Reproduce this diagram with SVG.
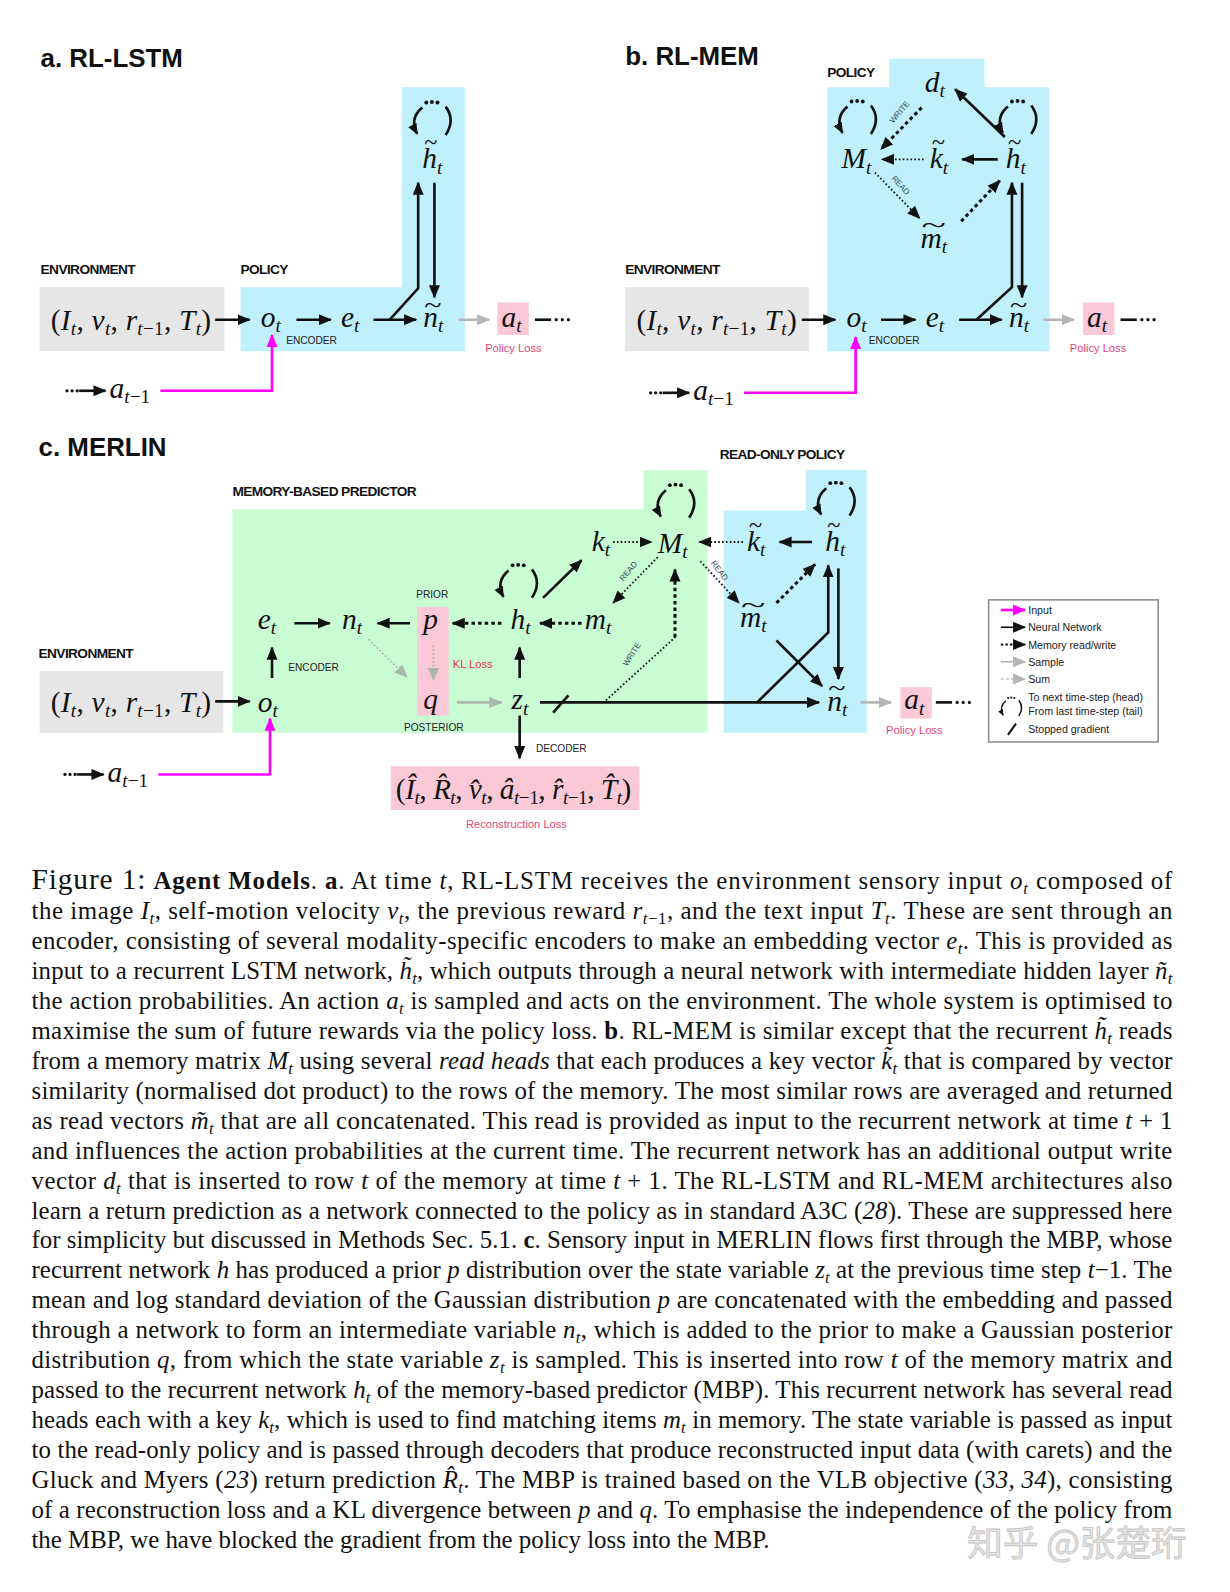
<svg xmlns="http://www.w3.org/2000/svg" xmlns:xlink="http://www.w3.org/1999/xlink" width="1230" height="1592" viewBox="0 0 1230 1592">
<style>
.title{font-family:"Liberation Sans",Arial,sans-serif;font-weight:bold;font-size:25.5px;fill:#111}
.lab{font-family:"Liberation Sans",Arial,sans-serif;font-weight:bold;font-size:13.5px;letter-spacing:-0.6px;fill:#111}
.sm{font-family:"Liberation Sans",Arial,sans-serif;font-size:10px;fill:#222}
.lg{font-family:"Liberation Sans",Arial,sans-serif;font-size:10.5px;fill:#222}
.tiny{font-family:"Liberation Sans",Arial,sans-serif;font-size:8px;fill:#34495a}
.loss{font-family:"Liberation Sans",Arial,sans-serif;font-size:11px;fill:#e6457c}
.kl{font-family:"Liberation Sans",Arial,sans-serif;font-size:11px;fill:#e8383e}
.mt{font-family:"Liberation Serif","Times New Roman",serif;font-size:29px;fill:#111}
.it{font-style:italic}
.sub{font-size:19px;font-style:italic}
.subr{font-size:19px;font-style:normal}
.til{font-family:"Liberation Serif","Times New Roman",serif;font-size:24px;fill:#111}
.ln{stroke:#111;stroke-width:2.6;fill:none}
.dot{stroke:#111;stroke-width:1.8;fill:none;stroke-dasharray:1.6 2.2}
.dsh{stroke:#111;stroke-width:3;fill:none;stroke-dasharray:3.5 3}
.gr{stroke:#b5b5b5;stroke-width:2.6;fill:none}
.gdot{stroke:#a9b8ab;stroke-width:1.8;fill:none;stroke-dasharray:1.6 2.2}
.mag{stroke:#ff00ff;stroke-width:2.6;fill:none}
.cap{font-family:"Liberation Serif","Times New Roman",serif;font-size:24.5px;fill:#111}
.cb{font-weight:bold}
.cs{font-size:16.5px;font-style:italic}
.csr{font-size:16.5px}
.blue{fill:#bff0fb}
.green{fill:#c9fcd3}
.grey{fill:#e6e6e6}
.pink{fill:#fac8d7}
</style>
<defs>
<marker id="ah" viewBox="0 0 12 10" refX="11" refY="5" markerWidth="13" markerHeight="11" markerUnits="userSpaceOnUse" orient="auto"><path d="M0,0 L12,5 L0,10 Z" fill="#111"/></marker>
<marker id="ahs" viewBox="0 0 12 10" refX="11" refY="5" markerWidth="11" markerHeight="10" markerUnits="userSpaceOnUse" orient="auto"><path d="M0,0 L12,5 L0,10 Z" fill="#111"/></marker>
<marker id="ahg" viewBox="0 0 12 10" refX="11" refY="5" markerWidth="13" markerHeight="11" markerUnits="userSpaceOnUse" orient="auto"><path d="M0,0 L12,5 L0,10 Z" fill="#b5b5b5"/></marker>
<marker id="ahgg" viewBox="0 0 12 10" refX="11" refY="5" markerWidth="13" markerHeight="11" markerUnits="userSpaceOnUse" orient="auto"><path d="M0,0 L12,5 L0,10 Z" fill="#a9b8ab"/></marker>
<marker id="ahm" viewBox="0 0 12 10" refX="11" refY="5" markerWidth="13" markerHeight="11" markerUnits="userSpaceOnUse" orient="auto"><path d="M0,0 L12,5 L0,10 Z" fill="#ff00ff"/></marker>
<g id="loop" fill="#111">
<circle cx="-5" cy="-17" r="1.9"/><circle cx="0.5" cy="-17.5" r="1.9"/><circle cx="6" cy="-17" r="1.9"/>
<path class="ln" d="M-9,-12 Q-22,-1 -14,14" marker-end="url(#ahs)"/>
<path class="ln" d="M14,-13 Q24,0 14,15"/>
</g>
<text id="tuple" class="mt" textLength="158" lengthAdjust="spacing">(<tspan class="it">I</tspan><tspan class="sub" dy="5">t</tspan><tspan dy="-5">, </tspan><tspan class="it">v</tspan><tspan class="sub" dy="5">t</tspan><tspan dy="-5">, </tspan><tspan class="it">r</tspan><tspan class="sub" dy="5">t</tspan><tspan class="subr">−1</tspan><tspan dy="-5">, </tspan><tspan class="it">T</tspan><tspan class="sub" dy="5">t</tspan><tspan dy="-5">)</tspan></text>
<g id="prev">
<circle cx="1" cy="0" r="1.6" fill="#111"/><circle cx="6" cy="0" r="1.6" fill="#111"/><circle cx="11" cy="0" r="1.6" fill="#111"/>
<line class="ln" x1="13" y1="0" x2="39" y2="0" marker-end="url(#ah)"/>
<text class="mt it" x="43" y="7">a<tspan class="sub" dy="5">t</tspan><tspan class="subr">−1</tspan></text>
<path class="mag" d="M93,0 H203 V-55" marker-end="url(#ahm)"/>
</g>
<g id="tail"><line class="ln" x1="0" y1="0" x2="16" y2="0"/><circle cx="21" cy="0" r="1.6" fill="#111"/><circle cx="27" cy="0" r="1.6" fill="#111"/><circle cx="33" cy="0" r="1.6" fill="#111"/></g>
</defs>
<rect width="1230" height="1592" fill="#fff"/>
<g transform="scale(1.015)">

<g id="regions">
<polygon class="blue" points="237,283 396,283 396,86 458,86 458,346 237,346"/>
<rect class="grey" x="39" y="283" width="182" height="63"/>
<polygon class="blue" points="815,86 876,86 876,58 970,58 970,86 1034,86 1034,346 815,346"/>
<rect class="grey" x="616" y="283" width="181" height="63"/>
<rect class="grey" x="39" y="661" width="181" height="61"/>
<polygon class="green" points="229,502 634,502 634,463 697,463 697,722 229,722"/>
<polygon class="blue" points="713,503 794,503 794,463 854,463 854,722 713,722"/>
<rect class="pink" x="411" y="598" width="31" height="107"/>
<rect class="pink" x="385" y="755" width="245" height="43"/>
<rect class="pink" x="490" y="298" width="31" height="32"/>
<rect class="pink" x="1067" y="298" width="31" height="32"/>
<rect class="pink" x="887" y="677" width="31" height="31"/>
</g>

<g id="labels">
<text class="title" x="40" y="66">a. RL-LSTM</text>
<text class="title" x="616" y="64">b. RL-MEM</text>
<text class="title" x="38" y="449">c. MERLIN</text>
<text class="lab" x="40" y="270">ENVIRONMENT</text>
<text class="lab" x="237" y="270">POLICY</text>
<text class="lab" x="616" y="270">ENVIRONMENT</text>
<text class="lab" x="815" y="76">POLICY</text>
<text class="lab" x="38" y="648">ENVIRONMENT</text>
<text class="lab" x="229" y="489">MEMORY-BASED PREDICTOR</text>
<text class="lab" x="709" y="452">READ-ONLY POLICY</text>
<text class="sm" x="282" y="339">ENCODER</text>
<text class="sm" x="856" y="339">ENCODER</text>
<text class="sm" x="284" y="661">ENCODER</text>
<text class="sm" x="528" y="741">DECODER</text>
<text class="sm" x="410" y="589">PRIOR</text>
<text class="sm" x="398" y="720">POSTERIOR</text>
<text class="kl" x="446" y="658">KL Loss</text>
<text class="loss" x="478" y="347">Policy Loss</text>
<text class="loss" x="1054" y="347">Policy Loss</text>
<text class="loss" x="873" y="723">Policy Loss</text>
<text class="loss" x="459" y="816">Reconstruction Loss</text>
<text class="tiny" transform="translate(880,122) rotate(-50)">WRITE</text>
<text class="tiny" transform="translate(878,176) rotate(48)">READ</text>
<text class="tiny" transform="translate(614,573) rotate(-50)">READ</text>
<text class="tiny" transform="translate(700,555) rotate(52)">READ</text>
<text class="tiny" transform="translate(618,657) rotate(-58)">WRITE</text>
</g>

<g id="connectors">
<line class="ln" x1="212" y1="315" x2="246" y2="315" marker-end="url(#ah)"/>
<line class="ln" x1="292" y1="315" x2="326" y2="315" marker-end="url(#ah)"/>
<line class="ln" x1="368" y1="315" x2="410" y2="315" marker-end="url(#ah)"/>
<path class="ln" d="M384,315 L412,284 V180" marker-end="url(#ah)"/>
<line class="ln" x1="428" y1="180" x2="428" y2="293" marker-end="url(#ah)"/>
<line class="gr" x1="452" y1="315" x2="482" y2="315" marker-end="url(#ahg)"/>
<use href="#tail" x="527" y="315"/>
<use href="#prev" x="65" y="385"/>
<line class="ln" x1="790" y1="315" x2="823" y2="315" marker-end="url(#ah)"/>
<line class="ln" x1="868" y1="315" x2="902" y2="315" marker-end="url(#ah)"/>
<line class="ln" x1="945" y1="315" x2="987" y2="315" marker-end="url(#ah)"/>
<path class="ln" d="M962,315 L997,283 V180" marker-end="url(#ah)"/>
<line class="ln" x1="1007" y1="180" x2="1007" y2="293" marker-end="url(#ah)"/>
<line class="gr" x1="1028" y1="315" x2="1058" y2="315" marker-end="url(#ahg)"/>
<use href="#tail" x="1104" y="315"/>
<use href="#prev" x="640" y="387"/>
<line class="ln" x1="990" y1="135" x2="941" y2="88" marker-end="url(#ah)"/>
<line class="dsh" x1="908" y1="106" x2="868" y2="147" marker-end="url(#ah)"/>
<line class="ln" x1="983" y1="157" x2="948" y2="157" marker-end="url(#ah)"/>
<line class="dot" x1="910" y1="157" x2="869" y2="157" marker-end="url(#ah)"/>
<line class="dot" x1="862" y1="170" x2="906" y2="215" marker-end="url(#ah)"/>
<line class="dsh" x1="947" y1="218" x2="985" y2="178" marker-end="url(#ah)"/>
<line class="ln" x1="212" y1="691" x2="246" y2="691" marker-end="url(#ah)"/>
<line class="ln" x1="268" y1="668" x2="268" y2="638" marker-end="url(#ah)"/>
<line class="ln" x1="290" y1="614" x2="325" y2="614" marker-end="url(#ah)"/>
<line class="ln" x1="404" y1="614" x2="372" y2="614" marker-end="url(#ah)"/>
<line class="dsh" x1="494" y1="614" x2="446" y2="614" marker-end="url(#ah)"/>
<line class="dsh" x1="573" y1="614" x2="532" y2="614" marker-end="url(#ah)"/>
<line class="ln" x1="535" y1="589" x2="573" y2="552" marker-end="url(#ah)"/>
<line class="dot" x1="604" y1="534" x2="642" y2="534" marker-end="url(#ah)"/>
<line class="dot" x1="648" y1="549" x2="604" y2="594" marker-end="url(#ah)"/>
<path class="dot" d="M597,690 L665,628"/>
<line class="dsh" x1="665" y1="628" x2="665" y2="561" marker-end="url(#ah)"/>
<line class="gdot" x1="363" y1="630" x2="401" y2="667" marker-end="url(#ahgg)"/>
<line class="gdot" x1="427" y1="636" x2="427" y2="670" marker-end="url(#ahgg)"/>
<line class="gr" x1="450" y1="692" x2="494" y2="692" marker-end="url(#ahgg)" style="stroke:#a9b8ab"/>
<line class="ln" x1="512" y1="668" x2="512" y2="638" marker-end="url(#ah)"/>
<line class="ln" x1="512" y1="705" x2="512" y2="747" marker-end="url(#ah)"/>
<line class="ln" x1="532" y1="692" x2="807" y2="692" marker-end="url(#ah)"/>
<line class="ln" x1="545" y1="702" x2="560" y2="685"/>
<line class="ln" x1="800" y1="534" x2="768" y2="534" marker-end="url(#ah)"/>
<line class="dot" x1="732" y1="534" x2="689" y2="534" marker-end="url(#ah)"/>
<line class="dot" x1="690" y1="553" x2="728" y2="594" marker-end="url(#ah)"/>
<line class="dsh" x1="765" y1="594" x2="803" y2="556" marker-end="url(#ah)"/>
<path class="ln" d="M746,692 L816,623 V557" marker-end="url(#ah)"/>
<line class="ln" x1="826" y1="560" x2="826" y2="669" marker-end="url(#ah)"/>
<line class="ln" x1="765" y1="631" x2="810" y2="676" marker-end="url(#ah)"/>
<line class="gr" x1="848" y1="692" x2="878" y2="692" marker-end="url(#ahg)"/>
<use href="#tail" x="922" y="692"/>
<use href="#prev" x="63" y="763"/>
</g>

<g id="node-env-a"><use href="#tuple" x="50" y="325"/></g>
<g id="node-ot-a"><text class="mt it" x="257" y="322">o<tspan class="sub" dy="5">t</tspan></text></g>
<g id="node-et-a"><text class="mt it" x="336" y="322">e<tspan class="sub" dy="5">t</tspan></text></g>
<g id="node-nt-a"><text class="mt it" x="417" y="322">n<tspan class="sub" dy="5">t</tspan></text><text class="til" x="418" y="308" textLength="17" lengthAdjust="spacingAndGlyphs">~</text></g>
<g id="node-ht-a"><text class="mt it" x="416" y="166">h<tspan class="sub" dy="5">t</tspan></text><text class="til" x="418" y="148" textLength="13" lengthAdjust="spacingAndGlyphs">~</text><use href="#loop" x="425" y="118"/></g>
<g id="node-at-a"><text class="mt it" x="494" y="322">a<tspan class="sub" dy="5">t</tspan></text></g>

<g id="node-env-b"><use href="#tuple" x="627" y="325"/></g>
<g id="node-ot-b"><text class="mt it" x="834" y="322">o<tspan class="sub" dy="5">t</tspan></text></g>
<g id="node-et-b"><text class="mt it" x="912" y="322">e<tspan class="sub" dy="5">t</tspan></text></g>
<g id="node-nt-b"><text class="mt it" x="994" y="322">n<tspan class="sub" dy="5">t</tspan></text><text class="til" x="995" y="308" textLength="17" lengthAdjust="spacingAndGlyphs">~</text></g>
<g id="node-at-b"><text class="mt it" x="1071" y="322">a<tspan class="sub" dy="5">t</tspan></text></g>
<g id="node-dt-b"><text class="mt it" x="911" y="91">d<tspan class="sub" dy="5">t</tspan></text></g>
<g id="node-Mt-b"><text class="mt it" x="829" y="166">M<tspan class="sub" dy="5">t</tspan></text><use href="#loop" x="844" y="117"/></g>
<g id="node-kt-b"><text class="mt it" x="916" y="166">k<tspan class="sub" dy="5">t</tspan></text><text class="til" x="918" y="148" textLength="13" lengthAdjust="spacingAndGlyphs">~</text></g>
<g id="node-ht-b"><text class="mt it" x="991" y="166">h<tspan class="sub" dy="5">t</tspan></text><text class="til" x="993" y="148" textLength="13" lengthAdjust="spacingAndGlyphs">~</text><use href="#loop" x="1002" y="117"/></g>
<g id="node-mt-b"><text class="mt it" x="907" y="244">m<tspan class="sub" dy="5">t</tspan></text><text class="til" x="908" y="230" textLength="24" lengthAdjust="spacingAndGlyphs">~</text></g>

<g id="node-env-c"><use href="#tuple" x="50" y="701"/></g>
<g id="node-ot-c"><text class="mt it" x="254" y="701">o<tspan class="sub" dy="5">t</tspan></text></g>
<g id="node-et-c"><text class="mt it" x="254" y="620">e<tspan class="sub" dy="5">t</tspan></text></g>
<g id="node-nt-c"><text class="mt it" x="337" y="620">n<tspan class="sub" dy="5">t</tspan></text></g>
<g id="node-p-c"><text class="mt it" x="417" y="620">p</text></g>
<g id="node-q-c"><text class="mt it" x="417" y="699">q</text></g>
<g id="node-ht-c"><text class="mt it" x="503" y="620">h<tspan class="sub" dy="5">t</tspan></text><use href="#loop" x="510" y="574"/></g>
<g id="node-mt-c"><text class="mt it" x="576" y="620">m<tspan class="sub" dy="5">t</tspan></text></g>
<g id="node-kt-c"><text class="mt it" x="583" y="543">k<tspan class="sub" dy="5">t</tspan></text></g>
<g id="node-Mt-c"><text class="mt it" x="648" y="545">M<tspan class="sub" dy="5">t</tspan></text><use href="#loop" x="665" y="495"/></g>
<g id="node-zt-c"><text class="mt it" x="504" y="699">z<tspan class="sub" dy="5">t</tspan></text></g>
<g id="node-recon-c"><text class="mt" x="390" y="787" textLength="232" lengthAdjust="spacing">(<tspan class="it">Î</tspan><tspan class="sub" dy="5">t</tspan><tspan dy="-5">, </tspan><tspan class="it">R̂</tspan><tspan class="sub" dy="5">t</tspan><tspan dy="-5">, </tspan><tspan class="it">v̂</tspan><tspan class="sub" dy="5">t</tspan><tspan dy="-5">, </tspan><tspan class="it">â</tspan><tspan class="sub" dy="5">t</tspan><tspan class="subr">−1</tspan><tspan dy="-5">, </tspan><tspan class="it">r̂</tspan><tspan class="sub" dy="5">t</tspan><tspan class="subr">−1</tspan><tspan dy="-5">, </tspan><tspan class="it">T̂</tspan><tspan class="sub" dy="5">t</tspan><tspan dy="-5">)</tspan></text></g>
<g id="node-kt2-c"><text class="mt it" x="736" y="543">k<tspan class="sub" dy="5">t</tspan></text><text class="til" x="738" y="525" textLength="13" lengthAdjust="spacingAndGlyphs">~</text></g>
<g id="node-ht2-c"><text class="mt it" x="813" y="543">h<tspan class="sub" dy="5">t</tspan></text><text class="til" x="815" y="525" textLength="13" lengthAdjust="spacingAndGlyphs">~</text><use href="#loop" x="823" y="493"/></g>
<g id="node-mt2-c"><text class="mt it" x="729" y="618">m<tspan class="sub" dy="5">t</tspan></text><text class="til" x="730" y="604" textLength="24" lengthAdjust="spacingAndGlyphs">~</text></g>
<g id="node-nt2-c"><text class="mt it" x="815" y="700">n<tspan class="sub" dy="5">t</tspan></text><text class="til" x="816" y="686" textLength="17" lengthAdjust="spacingAndGlyphs">~</text></g>
<g id="node-at-c"><text class="mt it" x="891" y="699">a<tspan class="sub" dy="5">t</tspan></text></g>

<g id="legend">
<rect x="974" y="591" width="167" height="140" fill="#fff" stroke="#8a8a8a" stroke-width="1.5"/>
<line class="mag" x1="986" y1="601" x2="1010" y2="601" marker-end="url(#ahm)"/>
<text class="lg" x="1013" y="605">Input</text>
<line class="ln" x1="986" y1="618" x2="1010" y2="618" marker-end="url(#ah)" style="stroke-width:1.6"/>
<text class="lg" x="1013" y="622">Neural Network</text>
<line class="dsh" x1="986" y1="635" x2="1010" y2="635" marker-end="url(#ah)" style="stroke-width:2;stroke-dasharray:2.5 2"/>
<text class="lg" x="1013" y="639">Memory read/write</text>
<line class="gr" x1="986" y1="652" x2="1010" y2="652" marker-end="url(#ahg)" style="stroke-width:1.6"/>
<text class="lg" x="1013" y="656">Sample</text>
<line class="gr" x1="986" y1="669" x2="1010" y2="669" marker-end="url(#ahg)" style="stroke-width:1.4;stroke:#c8c8c8;stroke-dasharray:3 2"/>
<text class="lg" x="1013" y="673">Sum</text>
<use href="#loop" transform="translate(996,697) scale(0.55)"/>
<text class="lg" x="1013" y="691">To next time-step (head)</text>
<text class="lg" x="1013" y="704">From last time-step (tail)</text>
<line class="ln" x1="993" y1="724" x2="1001" y2="713" style="stroke-width:2"/>
<text class="lg" x="1013" y="722">Stopped gradient</text>
</g>

<g id="caption">
<text class="cap" x="31" y="876" textLength="1124" lengthAdjust="spacing"><tspan font-size="29">Figure 1:</tspan> <tspan class="cb">Agent Models</tspan>. <tspan class="cb">a</tspan>. At time <tspan class="it">t</tspan>, RL-LSTM receives the environment sensory input <tspan class="it">o</tspan><tspan class="cs" dy="5">t</tspan><tspan dy="-5"> composed of</tspan></text>
<text class="cap" x="31" y="905.5" textLength="1124" lengthAdjust="spacing">the image <tspan class="it">I</tspan><tspan class="cs" dy="5">t</tspan><tspan dy="-5">, self-motion velocity </tspan><tspan class="it">v</tspan><tspan class="cs" dy="5">t</tspan><tspan dy="-5">, the previous reward </tspan><tspan class="it">r</tspan><tspan class="cs" dy="5">t</tspan><tspan class="csr">−1</tspan><tspan dy="-5">, and the text input </tspan><tspan class="it">T</tspan><tspan class="cs" dy="5">t</tspan><tspan dy="-5">. These are sent through an</tspan></text>
<text class="cap" x="31" y="935" textLength="1124" lengthAdjust="spacing">encoder, consisting of several modality-specific encoders to make an embedding vector <tspan class="it">e</tspan><tspan class="cs" dy="5">t</tspan><tspan dy="-5">. This is provided as</tspan></text>
<text class="cap" x="31" y="964.5" textLength="1124" lengthAdjust="spacing">input to a recurrent LSTM network, <tspan class="it">h̃</tspan><tspan class="cs" dy="5">t</tspan><tspan dy="-5">, which outputs through a neural network with intermediate hidden layer </tspan><tspan class="it">ñ</tspan><tspan class="cs" dy="5">t</tspan></text>
<text class="cap" x="31" y="994" textLength="1124" lengthAdjust="spacing">the action probabilities. An action <tspan class="it">a</tspan><tspan class="cs" dy="5">t</tspan><tspan dy="-5"> is sampled and acts on the environment. The whole system is optimised to</tspan></text>
<text class="cap" x="31" y="1023.5" textLength="1124" lengthAdjust="spacing">maximise the sum of future rewards via the policy loss. <tspan class="cb">b</tspan>. RL-MEM is similar except that the recurrent <tspan class="it">h̃</tspan><tspan class="cs" dy="5">t</tspan><tspan dy="-5"> reads</tspan></text>
<text class="cap" x="31" y="1053" textLength="1124" lengthAdjust="spacing">from a memory matrix <tspan class="it">M</tspan><tspan class="cs" dy="5">t</tspan><tspan dy="-5"> using several </tspan><tspan class="it">read heads</tspan> that each produces a key vector <tspan class="it">k̃</tspan><tspan class="cs" dy="5">t</tspan><tspan dy="-5"> that is compared by vector</tspan></text>
<text class="cap" x="31" y="1082.5" textLength="1124" lengthAdjust="spacing">similarity (normalised dot product) to the rows of the memory. The most similar rows are averaged and returned</text>
<text class="cap" x="31" y="1112" textLength="1124" lengthAdjust="spacing">as read vectors <tspan class="it">m̃</tspan><tspan class="cs" dy="5">t</tspan><tspan dy="-5"> that are all concatenated. This read is provided as input to the recurrent network at time </tspan><tspan class="it">t</tspan> + 1</text>
<text class="cap" x="31" y="1141.5" textLength="1124" lengthAdjust="spacing">and influences the action probabilities at the current time. The recurrent network has an additional output write</text>
<text class="cap" x="31" y="1171" textLength="1124" lengthAdjust="spacing">vector <tspan class="it">d</tspan><tspan class="cs" dy="5">t</tspan><tspan dy="-5"> that is inserted to row </tspan><tspan class="it">t</tspan> of the memory at time <tspan class="it">t</tspan> + 1. The RL-LSTM and RL-MEM architectures also</text>
<text class="cap" x="31" y="1200.5" textLength="1124" lengthAdjust="spacing">learn a return prediction as a network connected to the policy as in standard A3C (<tspan class="it">28</tspan>). These are suppressed here</text>
<text class="cap" x="31" y="1230" textLength="1124" lengthAdjust="spacing">for simplicity but discussed in Methods Sec. 5.1. <tspan class="cb">c</tspan>. Sensory input in MERLIN flows first through the MBP, whose</text>
<text class="cap" x="31" y="1259.5" textLength="1124" lengthAdjust="spacing">recurrent network <tspan class="it">h</tspan> has produced a prior <tspan class="it">p</tspan> distribution over the state variable <tspan class="it">z</tspan><tspan class="cs" dy="5">t</tspan><tspan dy="-5"> at the previous time step </tspan><tspan class="it">t</tspan>−1. The</text>
<text class="cap" x="31" y="1289" textLength="1124" lengthAdjust="spacing">mean and log standard deviation of the Gaussian distribution <tspan class="it">p</tspan> are concatenated with the embedding and passed</text>
<text class="cap" x="31" y="1318.5" textLength="1124" lengthAdjust="spacing">through a network to form an intermediate variable <tspan class="it">n</tspan><tspan class="cs" dy="5">t</tspan><tspan dy="-5">, which is added to the prior to make a Gaussian posterior</tspan></text>
<text class="cap" x="31" y="1348" textLength="1124" lengthAdjust="spacing">distribution <tspan class="it">q</tspan>, from which the state variable <tspan class="it">z</tspan><tspan class="cs" dy="5">t</tspan><tspan dy="-5"> is sampled. This is inserted into row </tspan><tspan class="it">t</tspan> of the memory matrix and</text>
<text class="cap" x="31" y="1377.5" textLength="1124" lengthAdjust="spacing">passed to the recurrent network <tspan class="it">h</tspan><tspan class="cs" dy="5">t</tspan><tspan dy="-5"> of the memory-based predictor (MBP). This recurrent network has several read</tspan></text>
<text class="cap" x="31" y="1407" textLength="1124" lengthAdjust="spacing">heads each with a key <tspan class="it">k</tspan><tspan class="cs" dy="5">t</tspan><tspan dy="-5">, which is used to find matching items </tspan><tspan class="it">m</tspan><tspan class="cs" dy="5">t</tspan><tspan dy="-5"> in memory. The state variable is passed as input</tspan></text>
<text class="cap" x="31" y="1436.5" textLength="1124" lengthAdjust="spacing">to the read-only policy and is passed through decoders that produce reconstructed input data (with carets) and the</text>
<text class="cap" x="31" y="1466" textLength="1124" lengthAdjust="spacing">Gluck and Myers (<tspan class="it">23</tspan>) return prediction <tspan class="it">R̂</tspan><tspan class="cs" dy="5">t</tspan><tspan dy="-5">. The MBP is trained based on the VLB objective (</tspan><tspan class="it">33, 34</tspan>), consisting</text>
<text class="cap" x="31" y="1495.5" textLength="1124" lengthAdjust="spacing">of a reconstruction loss and a KL divergence between <tspan class="it">p</tspan> and <tspan class="it">q</tspan>. To emphasise the independence of the policy from</text>
<text class="cap" x="31" y="1525">the MBP, we have blocked the gradient from the policy loss into the MBP.</text>
</g>

<g id="watermark">
<text x="953" y="1533" font-family="'Noto Sans CJK SC',sans-serif" font-size="35" fill="#e4e4e4" stroke="#c4c4c4" stroke-width="0.8">知乎 @张楚珩</text>
</g>
</g>
</svg>
